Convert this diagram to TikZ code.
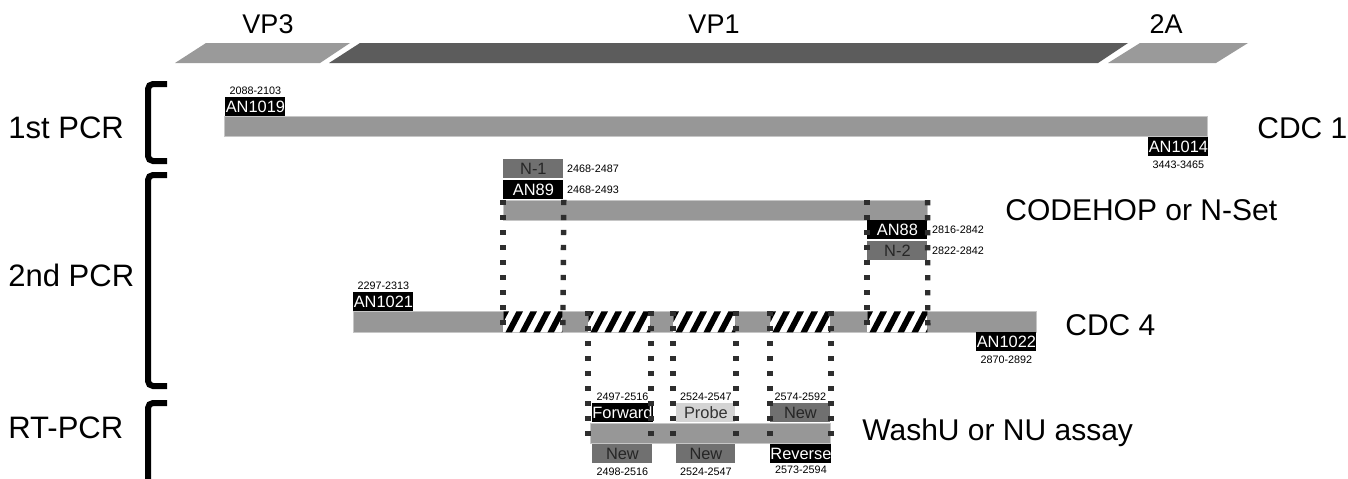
\documentclass[tikz,border=0pt]{standalone}
\usepackage{fontspec}
\setmainfont{Liberation Sans}
\usetikzlibrary{positioning,calc}

\definecolor{bargray}{HTML}{979797}
\definecolor{vplight}{HTML}{9A9A9A}
\definecolor{vpdark}{HTML}{5C5C5C}
\definecolor{midgray}{HTML}{707070}
\definecolor{palegray}{HTML}{D4D4D4}
\definecolor{dotgray}{HTML}{2E2E2E}

\begin{document}
\begin{tikzpicture}[
  x=0.5pt, y=-0.5pt,
  big/.style={font=\fontsize{15}{18}\selectfont, anchor=west, inner sep=0pt},
  vplabel/.style={font=\fontsize{13.5}{16}\selectfont, inner sep=0pt},
  num/.style={font=\fontsize{5.4}{6}\selectfont, inner sep=0.5pt},
  bar/.style={fill=bargray, draw=gray!45, line width=0.3pt, inner sep=0pt,
    minimum height=10pt, anchor=north west},
  primer/.style={minimum width=30pt, minimum height=9.5pt, inner sep=0pt,
    anchor=north west, font=\fontsize{8.2}{9}\selectfont},
  blk/.style={primer, fill=black, text=white},
  alt/.style={primer, fill=midgray, text=black!85},
  probe/.style={primer, fill=palegray, text=black!80},
  hatch/.style={fill=white, inner sep=0pt, minimum height=10.5pt, anchor=north west,
    path picture={
      \foreach \k in {0,...,8}
        \fill[black] ($(path picture bounding box.south west)+(\k*7pt-6pt,0pt)$)
          -- ++(3.3pt,0pt) -- ++(5.5pt,10.5pt) -- ++(-3.3pt,0pt) -- cycle;
    }},
  dots/.style={draw=dotgray, line width=2.7pt, dash pattern=on 2.7pt off 4.8pt},
  bracket/.style={line width=3pt, rounded corners=2.5pt}
]
\clip (0,0) rectangle (1348,478);
\fill[white] (0,0) rectangle (1348,478);

% Genome regions
\fill[vplight] (175,63) -- (206,43) -- (350,43) -- (320,63) -- cycle;
\fill[vpdark] (329,63) -- (360,43) -- (1128,43) -- (1098,63) -- cycle;
\fill[vplight] (1108,63) -- (1140,43) -- (1248,43) -- (1216,63) -- cycle;
\node[vplabel] (vp3) at (268,24) {VP3};
\node[vplabel] (vp1) at (714,24) {VP1};
\node[vplabel] (twoa) at (1166,24) {2A};

% Steps
\node[big, font=\fontsize{15.5}{18}\selectfont] (pcr1) at (8,128) {1st PCR};
\node[big, font=\fontsize{15.5}{18}\selectfont] (pcr2) at (8,275) {2nd PCR};
\node[big, font=\fontsize{15.5}{18}\selectfont] (rtpcr) at (8,428) {RT-PCR};
\draw[bracket] (167,84) -- (148,84) -- (148,161) -- (167,161);
\draw[bracket] (167,175) -- (148,175) -- (148,386) -- (167,386);
\draw[bracket] (167,403) -- (148,403) -- (148,495) -- (167,495);

% 1st PCR
\node[bar, minimum width=491.5pt] (cdc1) at (224,116) {};
\node[blk] (an1019) at (225,97) {AN1019};
\node[blk] (an1014) at (1148,137) {AN1014};
\node[num, above=0.5pt of an1019] {2088-2103};
\node[num, below=1.5pt of an1014] {3443-3465};
\node[big] (lcdc1) at (1257,128) {CDC 1};

% 2nd PCR, CODEHOP or N-Set
\node[bar, minimum width=212pt] (cod) at (503,200) {};
\node[alt] (n1) at (503,159) {N-1};
\node[blk] (an89) at (503,180) {AN89};
\node[blk] (an88) at (867,220) {AN88};
\node[alt] (n2) at (867,241) {N-2};
\node[num, right=1pt of n1] {2468-2487};
\node[num, right=1pt of an89] {2468-2493};
\node[num, right=1.5pt of an88] {2816-2842};
\node[num, right=1.5pt of n2] {2822-2842};
\node[big] (lcod) at (1005,210) {CODEHOP or N-Set};

% 2nd PCR, CDC 4
\node[bar, minimum width=341.5pt, minimum height=10.5pt] (cdc4) at (353,311) {};
\node[hatch, minimum width=29.5pt] (h1) at (503,311) {};
\node[hatch, minimum width=31pt] (h2) at (588,311) {};
\node[hatch, minimum width=31pt] (h3) at (673,311) {};
\node[hatch, minimum width=30pt] (h4) at (770,311) {};
\node[hatch, minimum width=30pt] (h5) at (867,311) {};
\node[blk] (an1021) at (353,292) {AN1021};
\node[blk] (an1022) at (976,332) {AN1022};
\node[num, above=0.5pt of an1021] {2297-2313};
\node[num, below=1.5pt of an1022] {2870-2892};
\node[big] (lcdc4) at (1065,325) {CDC 4};

% RT-PCR
\node[bar, minimum width=120pt] (rt) at (590,423) {};
\node[blk, minimum width=29pt] (fwd) at (592,403) {Forward};
\node[probe, minimum width=29.5pt] (prb) at (676,403) {Probe};
\node[alt] (newr) at (770,403) {New};
\node[alt] (newf) at (592,444) {New};
\node[alt, minimum width=29.5pt] (newp) at (676,444) {New};
\node[blk] (rev) at (770,444) {Reverse};
\node[num, above=0.5pt of fwd] {2497-2516};
\node[num, above=0.5pt of prb] {2524-2547};
\node[num, above=0.5pt of newr] {2574-2592};
\node[num, below=1.5pt of newf] {2498-2516};
\node[num, below=1.5pt of newp] {2524-2547};
\node[num, below=0.5pt of rev] {2573-2594};
\node[big] (lrt) at (862,433) {WashU or NU assay};

% Dotted guides
\draw[dots] (cod.north west) -- (h1.south west);
\draw[dots] (an89.south east) -- (h1.south east);
\draw[dots] (h5.south west |- cod.north) -- (h5.south west);
\draw[dots] (cod.north east) -- (h5.south east);
\foreach \h in {h2,h3,h4} {
  \draw[dots] (\h.north west) -- (\h.north west |- rt.south);
  \draw[dots] (\h.north east) -- (\h.north east |- rt.south);
}

\end{tikzpicture}
\end{document}
